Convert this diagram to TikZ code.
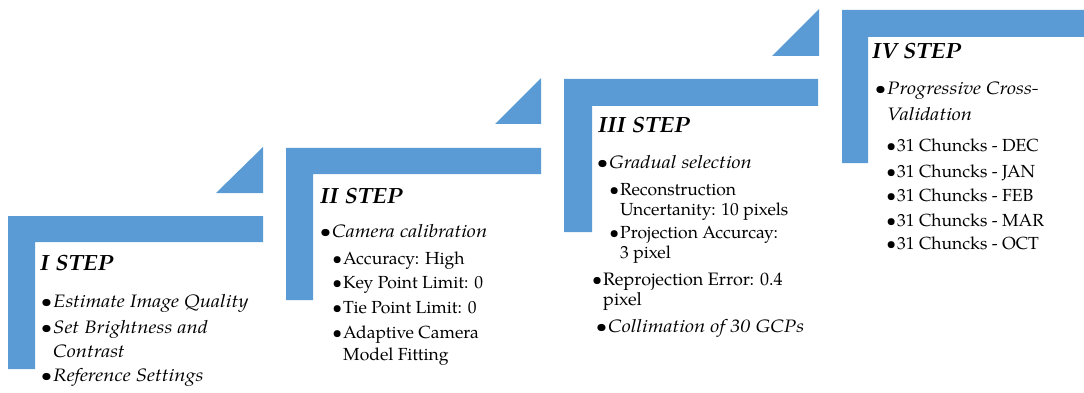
\documentclass[tikz,border=0pt]{standalone}
\usepackage{fontspec}
\setmainfont{TeX Gyre Pagella}[
  ItalicFeatures={FakeStretch=1.13},
  BoldItalicFeatures={FakeStretch=1.08}]
\definecolor{stepblue}{HTML}{5B9BD5}
\tikzset{
  band/.style={fill=stepblue, draw=none},
  steptitle/.style={anchor=base west, inner sep=0pt, font=\fontsize{22}{22}\selectfont\bfseries\itshape},
  itemA/.style={anchor=base west, inner sep=0pt, font=\fontsize{18}{18}\selectfont\itshape},
  itemAr/.style={anchor=base west, inner sep=0pt, font=\fontsize{18}{18}\selectfont},
  itemB/.style={anchor=base west, inner sep=0pt, font=\fontsize{17.5}{17.5}\selectfont},
}
\newcommand\bul{\llap{\textbullet\kern1pt}}
\begin{document}
\begin{tikzpicture}[x=1pt,y=-1pt]
\useasboundingbox (0,0) rectangle (1084,393);
% step I shapes
\fill[band] (8,216) -- (263,216) -- (263,242) -- (35,242) -- (35,369) -- (8,369) -- cycle;
\fill[band] (216,193) -- (263,147) -- (263,193) -- cycle;
% step II shapes
\fill[band] (286,148) -- (541,148) -- (541,174) -- (313,174) -- (313,300) -- (286,300) -- cycle;
\fill[band] (495,124) -- (541,78) -- (541,124) -- cycle;
% step III shapes
\fill[band] (564,79) -- (818,79) -- (818,106) -- (592,106) -- (592,232) -- (564,232) -- cycle;
\fill[band] (772,56) -- (819,9) -- (819,56) -- cycle;
% step IV shapes
\fill[band] (842,10) -- (1084,10) -- (1084,37) -- (868,37) -- (868,163) -- (842,163) -- cycle;

% step I text
\node[steptitle] (t1) at (40,270) {I STEP};
\node[itemA] (a1) at (53,307) {\bul Estimate Image Quality};
\node[itemA] (a2) at (53,333) {\bul Set Brightness and};
\node[itemA] (a3) at (53,357) {Contrast};
\node[itemA] (a4) at (53,381) {\bul Reference Settings};

% step II text
\node[steptitle] (t2) at (320,203) {II STEP};
\node[itemA] (b1) at (332,237) {\bul Camera calibration};
\node[itemB] (b2) at (343,264) {\bul Accuracy: High};
\node[itemB] (b3) at (343,288) {\bul Key Point Limit: 0};
\node[itemB] (b4) at (343,313) {\bul Tie Point Limit: 0};
\node[itemB] (b5) at (343,338) {\bul Adaptive Camera};
\node[itemB] (b6) at (343,360) {Model Fitting};

% step III text
\node[steptitle] (t3) at (598,133) {III STEP};
\node[itemA] (c1) at (609,168) {\bul Gradual selection};
\node[itemB] (c2) at (620,195) {\bul Reconstruction};
\node[itemB] (c3) at (620,215) {Uncertanity: 10 pixels};
\node[itemB] (c4) at (620,238) {\bul Projection Accurcay:};
\node[itemB] (c5) at (620,258) {3 pixel};
\node[itemAr] (c6) at (603,285) {\bul Reprojection Error: 0.4};
\node[itemAr] (c7) at (603,305) {pixel};
\node[itemA] (c8) at (608,332) {\bul Collimation of 30 GCPs};

% step IV text
\node[steptitle] (t4) at (872,59) {IV STEP};
\node[itemA] (d1) at (887,95) {\bul Progressive Cross-};
\node[itemA] (d2) at (887,121) {Validation};
\node[itemB] (d3) at (897,152) {\bul 31 Chuncks - DEC};
\node[itemB] (d4) at (897,177) {\bul 31 Chuncks - JAN};
\node[itemB] (d5) at (897,201) {\bul 31 Chuncks - FEB};
\node[itemB] (d6) at (897,226) {\bul 31 Chuncks - MAR};
\node[itemB] (d7) at (897,249) {\bul 31 Chuncks - OCT};
\end{tikzpicture}
\end{document}
